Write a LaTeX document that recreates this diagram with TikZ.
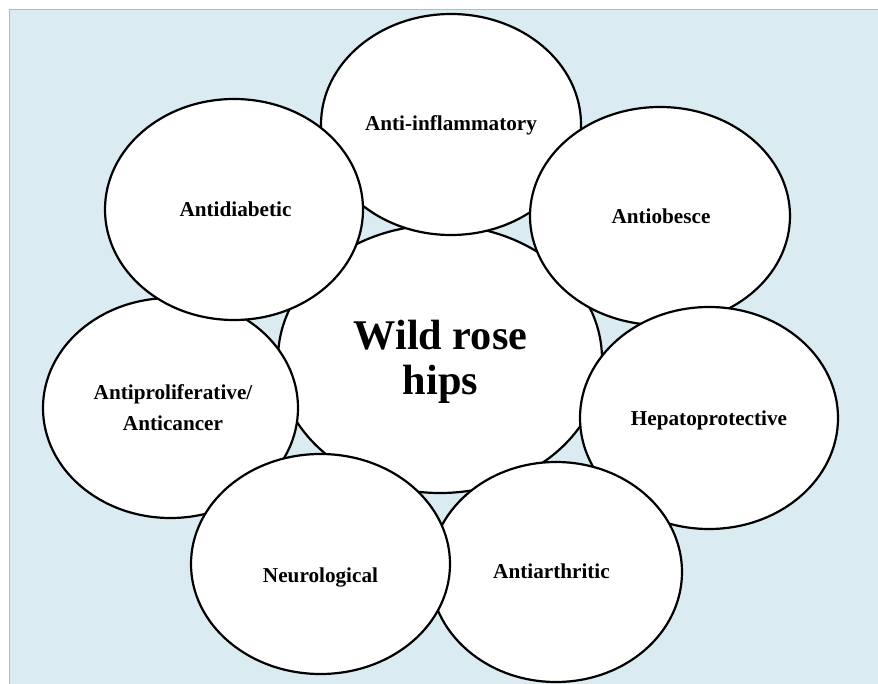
\documentclass[tikz,border=0pt]{standalone}
\usepackage{fontspec}
\setmainfont{Liberation Serif}
\usetikzlibrary{shapes.geometric}
\definecolor{bgblue}{RGB}{218,235,242}
\definecolor{edgegrey}{RGB}{185,185,185}
\tikzset{
  bubble/.style={ellipse, draw=black, line width=2.2pt, fill=white, inner sep=0pt, outer sep=0pt},
  lbl/.style={anchor=base, inner sep=0pt, font=\bfseries\fontsize{21.2}{31}\selectfont, align=center},
  biglbl/.style={anchor=base, inner sep=0pt, font=\bfseries\fontsize{42.3}{45}\selectfont, align=center}
}
\begin{document}
\begin{tikzpicture}[x=1pt,y=-1pt]
\useasboundingbox (0,0) rectangle (878,684);
\fill[white] (0,0) rectangle (878,684);
\fill[bgblue] (10,10) rectangle (878,684);
\draw[edgegrey, line width=1.5pt] (9.5,684) -- (9.5,9.5) -- (878,9.5);
% ellipses in stacking order
\node[bubble, minimum width=324pt, minimum height=268pt] (center) at (440,359) {};
\node[bubble, minimum width=260pt, minimum height=221pt] (inflam) at (451,124.5) {};
\node[bubble, minimum width=260pt, minimum height=218pt] (obesce) at (660,216) {};
\node[bubble, minimum width=258pt, minimum height=222pt] (hepato) at (709,418) {};
\node[bubble, minimum width=252pt, minimum height=220pt] (arth) at (556,572) {};
\node[bubble, minimum width=255pt, minimum height=220pt] (prolif) at (170.5,408) {};
\node[bubble, minimum width=259pt, minimum height=220pt] (neuro) at (320.5,564) {};
\node[bubble, minimum width=258pt, minimum height=221pt] (diab) at (234,209.5) {};
% labels (base anchor = baseline of the last line)
\node[biglbl] (tcenter) at (440.5,395) {Wild rose\\hips};
\node[lbl] (tinflam) at (451,131) {Anti-inflammatory};
\node[lbl] (tobesce) at (661,224) {Antiobesce};
\node[lbl] (thepato) at (709,425) {Hepatoprotective};
\node[lbl] (tarth) at (551.5,578) {Antiarthritic};
\node[lbl] (tprolif) at (173,430) {Antiproliferative/\\Anticancer};
\node[lbl] (tneuro) at (320.5,582) {Neurological};
\node[lbl] (tdiab) at (235.5,217) {Antidiabetic};
\end{tikzpicture}
\end{document}
